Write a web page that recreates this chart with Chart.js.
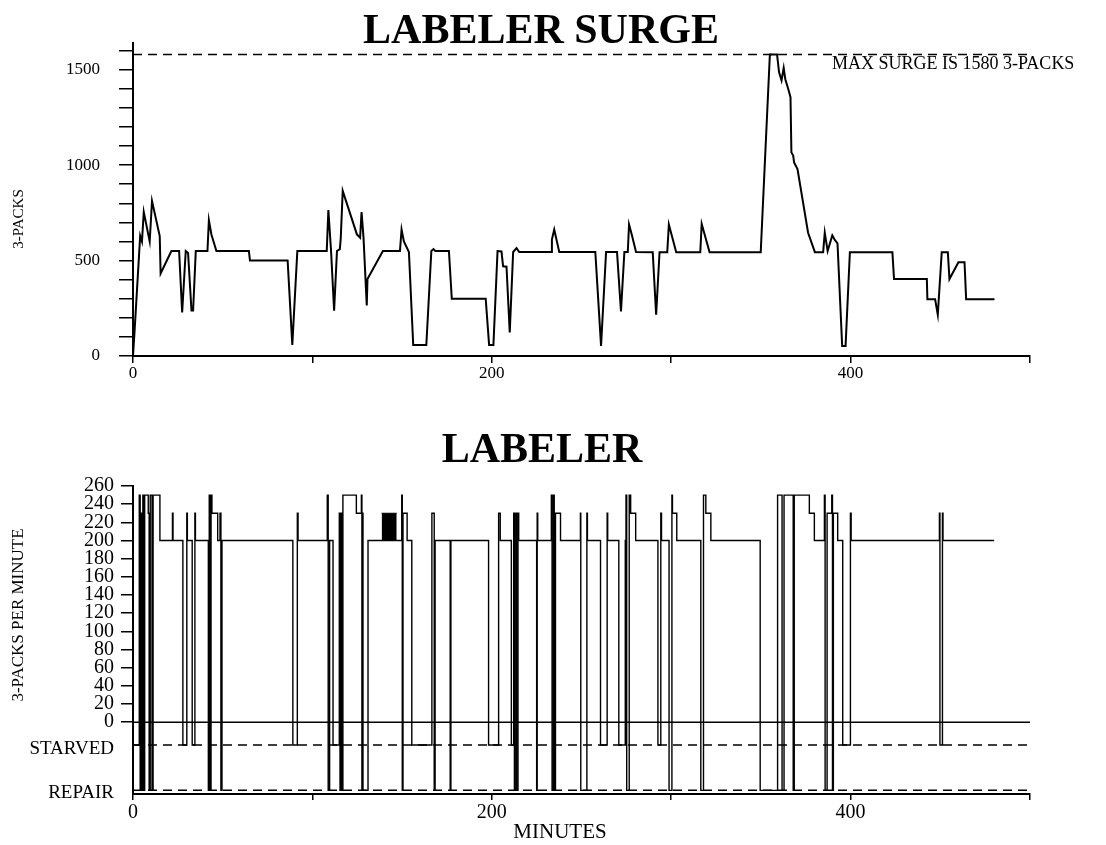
<!DOCTYPE html>
<html>
<head>
<meta charset="utf-8">
<script src="https://cdn.jsdelivr.net/npm/chart.js@4.4.1/dist/chart.umd.min.js"></script>
<style>
  html, body { margin: 0; background: #fff; }
  #wrap { position: relative; width: 1106px; height: 845px; }
  canvas { position: absolute; left: 0; }
</style>
</head>
<body>
<div id="wrap">
  <canvas id="surge" width="1106" height="392" style="top:0"></canvas>
  <canvas id="rate" width="1106" height="445" style="top:400px"></canvas>
</div>
<script>
// ---- top chart: labeler surge (3-packs) ----
const surgeMinutes = [0, 1, 4, 5, 6, 9.3, 10.6, 14.9, 15.4, 21.4, 25.7, 27.4, 29.4, 30.7, 32.6, 33.5, 35,
  41.5, 42.3, 43.7, 46.5, 64.6, 65.2, 86.2, 88.8, 91.6, 108, 108.9, 110.4, 112.1, 113.7, 115.3, 115.8,
  116.9, 124.8, 126.6, 127.4, 128.5, 130.3, 130.7, 139.3, 148.8, 149.7, 151, 153.8, 156.2, 163.5, 166.3,
  167.5, 168.5, 176.1, 177.7, 196.6, 198.5, 200.9, 203.2, 205.4, 206.3, 208.2, 210, 211.9, 213.8, 215.3,
  233, 233.5, 234.8, 237.6, 257.7, 260.9, 263.7, 269.8, 272, 273.9, 275.8, 276.5, 278, 280.4, 289.7,
  291.6, 293.5, 297.8, 298.7, 302.8, 316.2, 317, 321.4, 349.9, 355, 359, 360.1, 361.5, 362.7, 363.6,
  365.2, 366.5, 367, 368, 368.5, 370.4, 376.3, 380.1, 384.7, 385.6, 387.2, 389.8, 391.2, 392.7, 395.3,
  397.2, 399.6, 423.3, 424.2, 442.5, 442.8, 447.1, 448.6, 450.8, 454.2, 455.1, 460.1, 463.5, 464.4, 480.2];
const surgePacks = [0, 150, 630, 600, 755, 600, 812, 628, 432, 550, 550, 228, 550, 540, 238, 238, 550,
  550, 711, 637, 550, 550, 500, 500, 58, 550, 550, 765, 550, 238, 550, 560, 616,
  865, 637, 620, 754, 620, 265, 403, 550, 550, 663, 600, 545, 58, 58, 550,
  560, 550, 550, 300, 300, 58, 58, 550, 548, 470, 468, 123, 545, 565, 545,
  545, 610, 663, 545, 545, 53, 545, 545, 233, 545, 545, 689, 637, 545, 544,
  216, 544, 544, 689, 544, 544, 692, 544, 544, 1580, 1580, 1488, 1444, 1509, 1450,
  1400, 1356, 1067, 1050, 1014, 979, 646, 544, 544, 646, 550, 632, 608, 590, 53,
  53, 544, 544, 403, 403, 298, 298, 216, 544, 544, 403, 491, 491, 298, 298];
const maxSurge = 1580;
const surgeLabelled = [0, 500, 1000, 1500];

// ---- bottom chart: labeler rate (3-packs per minute) ----
const STARVED = -25;
const REPAIR = -75;
const rateMinutes = [0, 3.5, 4.0, 4.5, 5.0, 5.5, 6.0, 6.5, 8.5, 9.0, 9.6, 10.6, 11.2, 15.0,
  22.0, 22.3, 27.8, 30.0, 30.3, 33.0, 34.5, 34.8, 42.0, 42.5, 43.0, 43.5, 44.0, 47.2, 48.5, 49.0, 49.6,
  89.1, 91.6, 92.0, 108.3, 108.8, 109.6, 111.5, 115.0, 115.4, 116.0, 116.4, 117.0, 124.5, 127.3, 127.6,
  128.0, 128.2, 131.0, 149.8, 150.1, 150.5, 152.8, 155.4, 166.6, 167.9, 168.4, 176.8, 177.2,
  198.2, 203.8, 204.7, 210.9, 212.2, 212.6, 213.4, 213.8, 214.6, 215.0, 225.0, 225.3, 225.6,
  233.2, 233.6, 234.4, 234.8, 235.5, 238.3, 249.4, 249.6, 253.0, 253.3, 260.6, 264.3, 264.6,
  270.8, 274.4, 274.8, 275.2, 276.6, 277.4, 280.2, 292.6, 294.2, 294.6, 298.8, 300.4, 300.7, 303.1,
  316.5, 318.0, 319.3, 322.1, 349.6, 359.3, 361.8, 362.9, 368.0, 368.6, 377.0, 379.8,
  385.4, 385.8, 386.9, 389.5, 389.9, 390.4, 392.8, 395.6, 399.9, 400.3, 449.5, 449.8, 451.2, 451.5, 480.0];
const ratePerMinute = [STARVED, 250, REPAIR, 230, REPAIR, 250, REPAIR, 250, 230, REPAIR, 250, REPAIR, 250, 200,
  230, 200, STARVED, 230, 200, STARVED, 230, 200, REPAIR, 250, REPAIR, 250, 230, 200, 230, REPAIR, 200,
  STARVED, 230, 200, 250, REPAIR, 200, STARVED, 230, REPAIR, 230, REPAIR, 250, 230, 250, REPAIR,
  230, REPAIR, 200, 250, REPAIR, 230, 200, STARVED, 230, REPAIR, 200, REPAIR, 200,
  STARVED, 230, 200, STARVED, 230, REPAIR, 230, REPAIR, 230, 200, REPAIR, 230, 200,
  250, REPAIR, 250, REPAIR, 230, 200, 230, REPAIR, 230, 200, STARVED, 230, 200,
  STARVED, 200, 250, REPAIR, 250, 230, 200, STARVED, 230, 200, REPAIR, 250, 230, 200,
  REPAIR, 250, 230, 200, REPAIR, 250, REPAIR, 250, REPAIR, 250, 230, 200,
  250, REPAIR, 230, 250, REPAIR, 230, 200, STARVED, 230, 200, 230, STARVED, 230, 200, 200];
// stretch where the rate flickers between 200 and 230 so fast it prints solid
const blockMinutes = [138.6, 147.0];
const blockLow = 200;
const blockHigh = 230;
// y ticks of the rate chart (state labels sit just under their lines)
const rateTickValues = [-78, -29, 0, 20, 40, 60, 80, 100, 120, 140, 160, 180, 200, 220, 240, 260];
const rateTickLabels = ['REPAIR', 'STARVED', '0', '20', '40', '60', '80', '100', '120', '140', '160',
  '180', '200', '220', '240', '260'];
const minuteLabelled = [0, 200, 400];
const minuteRange = [0, 500];

const SERIF = '"Liberation Serif", "Times New Roman", serif';
Chart.defaults.font.family = SERIF;
Chart.defaults.color = '#000';

function textPlugin(items) {
  return {
    id: 'freeText',
    afterDraw(chart) {
      const ctx = chart.ctx;
      items.forEach(t => {
        ctx.save();
        ctx.font = t.font;
        ctx.fillStyle = '#000';
        ctx.textAlign = t.align || 'center';
        ctx.textBaseline = t.baseline || 'alphabetic';
        ctx.translate(t.x, t.y);
        if (t.rotate) ctx.rotate(t.rotate);
        ctx.fillText(t.text, 0, 0);
        ctx.restore();
      });
    }
  };
}

function pts(xs, ys) { return xs.map((x, i) => ({ x: x, y: ys[i] })); }
function flat(y) { return minuteRange.map(x => ({ x: x, y: y })); }

const axisBorder = { color: '#000', width: 2 };

new Chart(document.getElementById('surge'), {
  type: 'line',
  data: {
    datasets: [
      { data: pts(surgeMinutes, surgePacks), borderColor: '#000', borderWidth: 2, pointRadius: 0, tension: 0 },
      { data: flat(maxSurge), borderColor: '#000', borderWidth: 1.5, borderDash: [9, 6], pointRadius: 0 }
    ]
  },
  options: {
    responsive: false,
    devicePixelRatio: 1,
    animation: false,
    layout: { padding: { top: 43, right: 76, left: 0, bottom: 0 } },
    plugins: { legend: { display: false }, tooltip: { enabled: false } },
    scales: {
      x: {
        type: 'linear', min: 0, max: 500,
        afterFit(s) { s.height = 36; },
        border: axisBorder,
        grid: { drawOnChartArea: false, color: '#000', lineWidth: 1.5, tickLength: 7 },
        ticks: {
          stepSize: 100, autoSkip: false, maxRotation: 0, padding: 2,
          font: { size: 17, lineHeight: 1 },
          callback: v => minuteLabelled.includes(v) ? String(v) : ''
        }
      },
      y: {
        type: 'linear', min: 0, max: 1640,
        afterFit(s) { s.width = 133; },
        border: axisBorder,
        grid: { drawOnChartArea: false, color: '#000', lineWidth: 1.5, tickLength: 14 },
        ticks: {
          stepSize: 100, includeBounds: false, autoSkip: false, padding: 19,
          font: { size: 17, lineHeight: 1 },
          callback: v => surgeLabelled.includes(v) ? String(v) : ''
        }
      }
    }
  },
  plugins: [textPlugin([
    { text: 'LABELER SURGE', font: 'bold 42px ' + SERIF, x: 541, y: 43 },
    { text: 'MAX SURGE IS ' + maxSurge + ' 3-PACKS', font: '18px ' + SERIF, x: 832, y: 69, align: 'left' },
    { text: '3-PACKS', font: '15px ' + SERIF, x: 19, y: 219, baseline: 'middle', rotate: -Math.PI / 2 }
  ])]
});

new Chart(document.getElementById('rate'), {
  type: 'line',
  data: {
    datasets: [
      { data: pts(rateMinutes, ratePerMinute), stepped: true, borderColor: '#000', borderWidth: 1.4, pointRadius: 0 },
      { data: blockMinutes.map(x => ({ x: x, y: blockHigh })), fill: { value: blockLow },
        backgroundColor: '#000', borderColor: '#000', borderWidth: 1, pointRadius: 0 },
      { data: flat(0), borderColor: '#000', borderWidth: 1.5, pointRadius: 0 },
      { data: flat(STARVED), borderColor: '#000', borderWidth: 1.5, borderDash: [9, 6], pointRadius: 0 },
      { data: flat(REPAIR), borderColor: '#000', borderWidth: 1.5, borderDash: [9, 6], pointRadius: 0 }
    ]
  },
  options: {
    responsive: false,
    devicePixelRatio: 1,
    animation: false,
    layout: { padding: { top: 86, right: 76, left: 0, bottom: 0 } },
    plugins: { legend: { display: false }, tooltip: { enabled: false } },
    scales: {
      x: {
        type: 'linear', min: 0, max: 500,
        afterFit(s) { s.height = 51; },
        border: axisBorder,
        grid: { drawOnChartArea: false, color: '#000', lineWidth: 1.5, tickLength: 6 },
        ticks: {
          stepSize: 100, autoSkip: false, maxRotation: 0, padding: 3,
          font: { size: 20, lineHeight: 1 },
          callback: v => minuteLabelled.includes(v) ? String(v) : ''
        }
      },
      y: {
        type: 'linear', min: -79, max: 260,
        afterFit(s) { s.width = 133; },
        afterBuildTicks(s) { s.ticks = rateTickValues.map(v => ({ value: v })); },
        border: axisBorder,
        grid: {
          drawOnChartArea: false, color: '#000', lineWidth: 1.5, tickLength: 12,
          tickColor: c => (c.tick && c.tick.value < 0) ? 'rgba(0,0,0,0)' : '#000'
        },
        ticks: {
          autoSkip: false, padding: 7,
          font: c => ({ size: (c.tick && c.tick.value < 0) ? 19 : 20, lineHeight: 1 }),
          callback: (v, i) => rateTickLabels[i]
        }
      }
    }
  },
  plugins: [textPlugin([
    { text: 'LABELER', font: 'bold 42px ' + SERIF, x: 542, y: 62 },
    { text: '3-PACKS PER MINUTE', font: '17px ' + SERIF, x: 19, y: 215, baseline: 'middle', rotate: -Math.PI / 2 },
    { text: 'MINUTES', font: '21px ' + SERIF, x: 560, y: 432, baseline: 'middle' }
  ])]
});
</script>
</body>
</html>
